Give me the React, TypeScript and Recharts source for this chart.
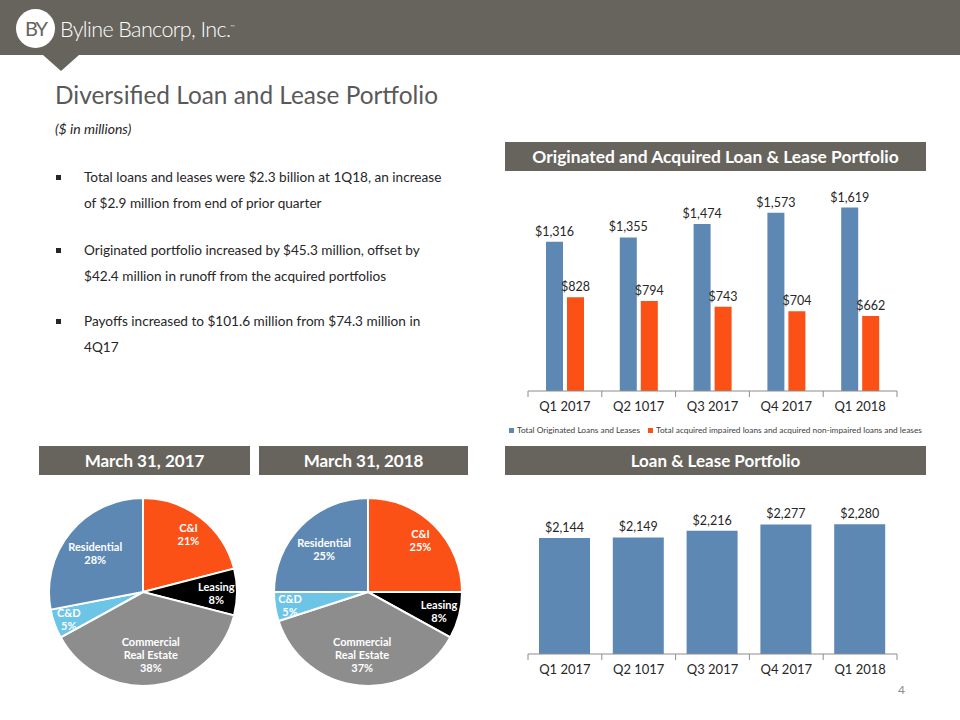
import React from 'react';
import { BarChart, Bar, XAxis, YAxis, LabelList, PieChart, Pie, Cell } from 'recharts';

// quarters and values ($ in millions)
const quarters = ['Q1 2017', 'Q2 1017', 'Q3 2017', 'Q4 2017', 'Q1 2018'];
const originated = [1316, 1355, 1474, 1573, 1619];
const acquired = [828, 794, 743, 704, 662];
const totalLoans = [2144, 2149, 2216, 2277, 2280];

// portfolio mix, percent
const segments = ['C&I', 'Leasing', 'Commercial\nReal Estate', 'C&D', 'Residential'];
const mix2017 = [21, 8, 38, 5, 28];
const mix2018 = [25, 8, 37, 5, 25];

const BAND = '#67635D';
const BLUE = '#5D88B3';
const ORANGE = '#FB5016';
const SEGMENT_COLORS = [ORANGE, '#000000', '#8D8D8D', '#6CC4E6', BLUE];
const LABEL_R: Record<string, number> = {
  'C&I': 0.79,
  Leasing: 0.78,
  'Commercial\nReal Estate': 0.66,
  'C&D': 0.84,
  Residential: 0.66,
};
const FONT = 'Lato, "Open Sans", sans-serif';
const RADIAN = Math.PI / 180;

const splitData = quarters.map((q, i) => ({ q, originated: originated[i], acquired: acquired[i] }));
const totalData = quarters.map((q, i) => ({ q, total: totalLoans[i] }));
const pie2017 = segments.map((name, i) => ({ name, value: mix2017[i] }));
const pie2018 = segments.map((name, i) => ({ name, value: mix2018[i] }));

const CHART_W = 420;
const MARGIN = { left: 28, right: 23 };
const BAND_W = (CHART_W - MARGIN.left - MARGIN.right) / quarters.length;

// Excel-style ticks: marks sit between categories, label in the middle
const QuarterTick = (props: any) => {
  const { x, y, payload, index } = props;
  const half = BAND_W / 2;
  return (
    <g>
      <line x1={x - half} x2={x - half} y1={y} y2={y + 6} stroke="#8C8C8C" />
      {index === quarters.length - 1 && (
        <line x1={x + half} x2={x + half} y1={y} y2={y + 6} stroke="#8C8C8C" />
      )}
      <text x={x} y={y + 11} dy="0.71em" textAnchor="middle" fill="#262626" fontSize={13} fontFamily={FONT}>
        {payload.value}
      </text>
    </g>
  );
};

const money = (v: any) => `$${Number(v).toLocaleString('en-US')}`;

const renderPieLabel = (props: any) => {
  const { cx, cy, midAngle, outerRadius, name, value } = props;
  const r = outerRadius * (LABEL_R[name] ?? 0.7);
  const x = cx + r * Math.cos(-midAngle * RADIAN);
  const y = cy + r * Math.sin(-midAngle * RADIAN);
  const lines = [...String(name).split('\n'), `${value}%`];
  const lh = 13;
  const y0 = y - ((lines.length - 1) * lh) / 2;
  return (
    <text x={x} y={y0} fill="#fff" fontSize={11} fontWeight={700} fontFamily={FONT} textAnchor="middle" dominantBaseline="central">
      {lines.map((l, i) => (
        <tspan key={i} x={x} y={y0 + i * lh}>
          {l}
        </tspan>
      ))}
    </text>
  );
};

const SectionBand = ({ left, top, width, size = 17, children }: any) => (
  <div
    style={{
      position: 'absolute',
      left,
      top,
      width,
      height: 29,
      background: BAND,
      color: '#fff',
      fontWeight: 700,
      fontSize: size,
      lineHeight: '29px',
      textAlign: 'center',
      whiteSpace: 'nowrap',
    }}
  >
    {children}
  </div>
);

const bulletStyle: React.CSSProperties = {
  position: 'absolute',
  left: 56,
  width: 5,
  height: 5,
  background: '#262626',
};

const Bullet = ({ top, lines }: { top: number; lines: string[] }) => (
  <>
    <div style={{ ...bulletStyle, top: top + 10 }} />
    <div
      style={{
        position: 'absolute',
        left: 84,
        top,
        fontSize: 13.6,
        lineHeight: '25.7px',
        color: '#262626',
        whiteSpace: 'nowrap',
      }}
    >
      {lines.map((l, i) => (
        <div key={i}>{l}</div>
      ))}
    </div>
  </>
);

const LegendItem = ({ color, label }: { color: string; label: string }) => (
  <span style={{ display: 'inline-flex', alignItems: 'center', marginRight: 8 }}>
    <span style={{ width: 5, height: 5, background: color, marginRight: 3 }} />
    {label}
  </span>
);

export default function App() {
  return (
    <div
      style={{
        position: 'absolute',
        left: 0,
        top: 0,
        width: 960,
        height: 720,
        overflow: 'hidden',
        background: '#fff',
        fontFamily: FONT,
      }}
    >
      {/* header */}
      <div style={{ position: 'absolute', left: 0, top: 0, width: 960, height: 55, background: BAND }} />
      <div
        style={{
          position: 'absolute',
          left: 43,
          top: 55,
          width: 0,
          height: 0,
          borderLeft: '18px solid transparent',
          borderRight: '18px solid transparent',
          borderTop: `16px solid ${BAND}`,
        }}
      />
      <div
        style={{
          position: 'absolute',
          left: 16,
          top: 9,
          width: 39,
          height: 39,
          borderRadius: '50%',
          background: '#fff',
          color: BAND,
          fontSize: 20,
          fontWeight: 400,
          lineHeight: '39px',
          textAlign: 'center',
          letterSpacing: -2,
        }}
      >
        BY
      </div>
      <div
        style={{
          position: 'absolute',
          left: 60,
          top: 12,
          color: '#fff',
          fontSize: 21.5,
          fontWeight: 300,
          letterSpacing: -0.6,
          lineHeight: '30px',
          whiteSpace: 'nowrap',
        }}
      >
        Byline Bancorp, Inc.<sup style={{ fontSize: 6 }}>™</sup>
      </div>

      {/* title */}
      <div style={{ position: 'absolute', left: 55, top: 80, fontSize: 24.4, lineHeight: '30px', color: '#595959' }}>
        Diversified Loan and Lease Portfolio
      </div>
      <div style={{ position: 'absolute', left: 55, top: 120, fontSize: 14, fontStyle: 'italic', color: '#262626' }}>
        ($ in millions)
      </div>

      <Bullet
        top={165}
        lines={['Total loans and leases were $2.3 billion at 1Q18, an increase', 'of $2.9 million from end of prior quarter']}
      />
      <Bullet
        top={238}
        lines={['Originated portfolio increased by $45.3 million, offset by', '$42.4 million in runoff from the acquired portfolios']}
      />
      <Bullet top={309} lines={['Payoffs increased to $101.6 million from $74.3 million in', '4Q17']} />

      {/* originated vs acquired */}
      <SectionBand left={505} top={142} width={421} size={17.4}>
        Originated and Acquired Loan &amp; Lease Portfolio
      </SectionBand>
      <div style={{ position: 'absolute', left: 500, top: 160 }}>
        <BarChart
          width={CHART_W}
          height={266}
          data={splitData}
          margin={{ top: 27, bottom: 5, left: MARGIN.left, right: MARGIN.right }}
          barSize={17}
          barGap={4}
        >
          <XAxis
            dataKey="q"
            tick={<QuarterTick />}
            tickLine={false}
            tickSize={0}
            tickMargin={0}
            axisLine={{ stroke: '#8C8C8C' }}
            interval={0}
          />
          <YAxis hide domain={[0, 1800]} />
          <Bar dataKey="originated" fill={BLUE} isAnimationActive={false}>
            <LabelList dataKey="originated" position="top" offset={6} formatter={money} fill="#262626" fontSize={12.5} fontFamily={FONT} />
          </Bar>
          <Bar dataKey="acquired" fill={ORANGE} isAnimationActive={false}>
            <LabelList dataKey="acquired" position="top" offset={6} formatter={money} fill="#262626" fontSize={12.5} fontFamily={FONT} />
          </Bar>
        </BarChart>
      </div>
      <div
        style={{
          position: 'absolute',
          left: 509,
          top: 425,
          fontSize: 8.3,
          lineHeight: '10px',
          color: '#404040',
          whiteSpace: 'nowrap',
          display: 'flex',
        }}
      >
        <LegendItem color={BLUE} label="Total Originated Loans and Leases" />
        <LegendItem color={ORANGE} label="Total acquired impaired loans and acquired non-impaired loans and leases" />
      </div>

      {/* portfolio mix */}
      <SectionBand left={39} top={446} width={211}>
        March 31, 2017
      </SectionBand>
      <SectionBand left={259} top={446} width={209}>
        March 31, 2018
      </SectionBand>
      <div style={{ position: 'absolute', left: 30, top: 480 }}>
        <PieChart width={440} height={210}>
          <Pie
            data={pie2017}
            dataKey="value"
            nameKey="name"
            cx={108}
            cy={107}
            outerRadius={94}
            startAngle={90}
            endAngle={-270}
            stroke="#fff"
            strokeWidth={2}
            label={renderPieLabel}
            labelLine={false}
            isAnimationActive={false}
          >
            {pie2017.map((d, i) => (
              <Cell key={d.name} fill={SEGMENT_COLORS[i]} />
            ))}
          </Pie>
          <Pie
            data={pie2018}
            dataKey="value"
            nameKey="name"
            cx={333}
            cy={107}
            outerRadius={94}
            startAngle={90}
            endAngle={-270}
            stroke="#fff"
            strokeWidth={2}
            label={renderPieLabel}
            labelLine={false}
            isAnimationActive={false}
          >
            {pie2018.map((d, i) => (
              <Cell key={d.name} fill={SEGMENT_COLORS[i]} />
            ))}
          </Pie>
        </PieChart>
      </div>

      {/* total loans */}
      <SectionBand left={505} top={446} width={421}>
        Loan &amp; Lease Portfolio
      </SectionBand>
      <div style={{ position: 'absolute', left: 500, top: 490 }}>
        <BarChart
          width={CHART_W}
          height={199}
          data={totalData}
          margin={{ top: 22, bottom: 5, left: MARGIN.left, right: MARGIN.right }}
          barSize={51}
        >
          <XAxis
            dataKey="q"
            tick={<QuarterTick />}
            tickLine={false}
            tickSize={0}
            tickMargin={0}
            axisLine={{ stroke: '#8C8C8C' }}
            interval={0}
          />
          <YAxis hide domain={[1000, 2400]} allowDataOverflow />
          <Bar dataKey="total" fill={BLUE} isAnimationActive={false}>
            <LabelList dataKey="total" position="top" offset={6} formatter={money} fill="#262626" fontSize={12.5} fontFamily={FONT} />
          </Bar>
        </BarChart>
      </div>

      <div style={{ position: 'absolute', left: 898, top: 682, fontSize: 12, color: '#8C8C8C' }}>4</div>
    </div>
  );
}
